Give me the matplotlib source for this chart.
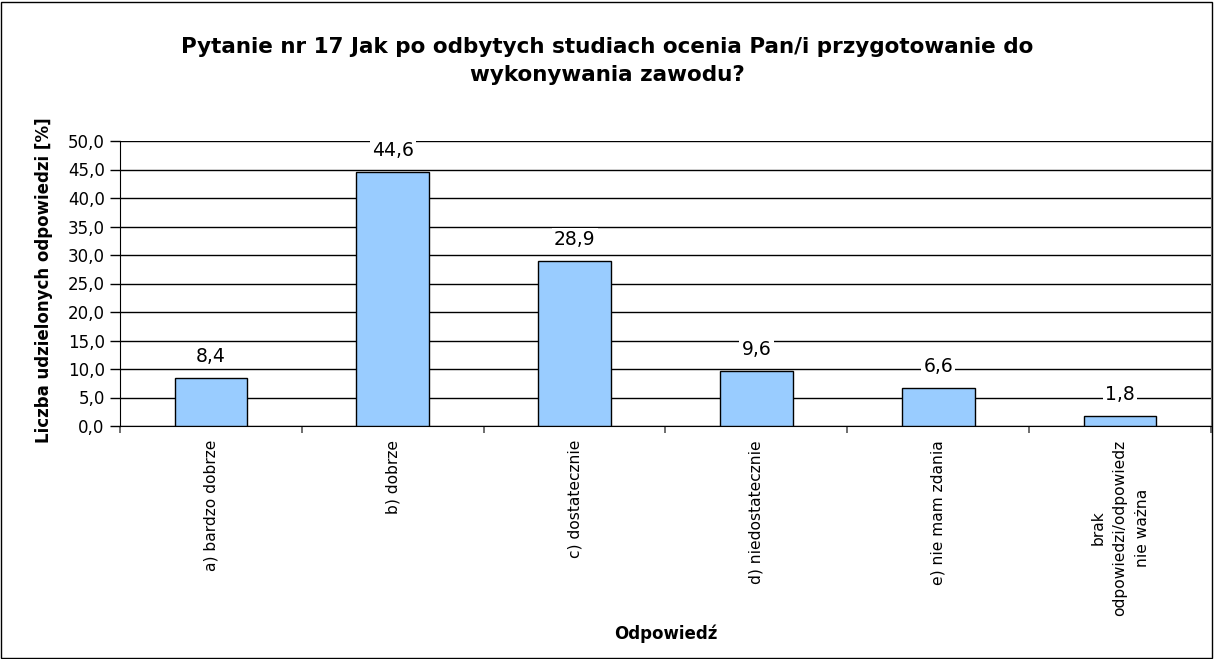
import matplotlib
matplotlib.use("Agg")
import matplotlib.pyplot as plt
from matplotlib.patches import Rectangle

categories = ["a) bardzo dobrze", "b) dobrze", "c) dostatecznie", "d) niedostatecznie",
              "e) nie mam zdania", "brak\nodpowiedzi/odpowiedz\nnie ważna"]
values = [8.4, 44.6, 28.9, 9.6, 6.6, 1.8]
yticks = [0, 5, 10, 15, 20, 25, 30, 35, 40, 45, 50]

plt.rcParams['font.family'] = ['DejaVu Sans']

W, H = 1214, 659
fig = plt.figure(figsize=(W/100, H/100), dpi=100)
ax = fig.add_axes([120/W, 1-426/H, (1211-120)/W, (426-141)/H])

x = list(range(len(categories)))
ax.bar(x, values, width=0.4, color="#99CCFF", edgecolor="black", linewidth=1, zorder=3)
ax.set_xlim(-0.5, len(categories)-0.5)
ax.set_ylim(0, 50)
ax.set_yticks(yticks)
ax.set_yticklabels([f"{v:.1f}".replace(".", ",") for v in yticks], fontsize=12)
ax.yaxis.grid(True, color="black", linewidth=1, zorder=0)
ax.tick_params(axis='y', direction='out', length=7, width=1, pad=4)

ax.set_xticks(x)
ax.set_xticklabels(categories, rotation=90, fontsize=11.2, va='top', ha='center',
                   multialignment='center', linespacing=1.6)
ax.tick_params(axis='x', which='major', length=0, pad=10)
ax.set_xticks([i + 0.5 for i in range(-1, len(categories))], minor=True)
ax.tick_params(axis='x', which='minor', direction='out', length=5, width=1.2, color='#555555')

for i, v in enumerate(values):
    ax.annotate(f"{v:.1f}".replace(".", ","), (i, v), xytext=(0, 15.5), textcoords='offset points',
                ha='center', va='center', fontsize=13.5, zorder=5,
                bbox=dict(boxstyle='square,pad=0.12', fc='white', ec='none'))

ax.spines['top'].set_visible(False)
ax.spines['right'].set_color('#888888')
ax.spines['left'].set_color('black')
ax.spines['bottom'].set_color('black')

fig.text(44/W, 1-280/H, "Liczba udzielonych odpowiedzi [%]", rotation=90, ha='center', va='center',
         fontsize=12, fontweight='bold')
fig.text(666/W, 1-634/H, "Odpowiedź", ha='center', va='center', fontsize=12, fontweight='bold')
fig.text(607/W, 1-61/H, "Pytanie nr 17 Jak po odbytych studiach ocenia Pan/i przygotowanie do\nwykonywania zawodu?",
         ha='center', va='center', fontsize=15.5, fontweight='bold', linespacing=1.5)

fig.patches.append(Rectangle((1/W, 1/H), (W-3)/W, (H-3)/H, transform=fig.transFigure,
                             fill=False, edgecolor='black', linewidth=1))

fig.savefig("out.png", dpi=100)
